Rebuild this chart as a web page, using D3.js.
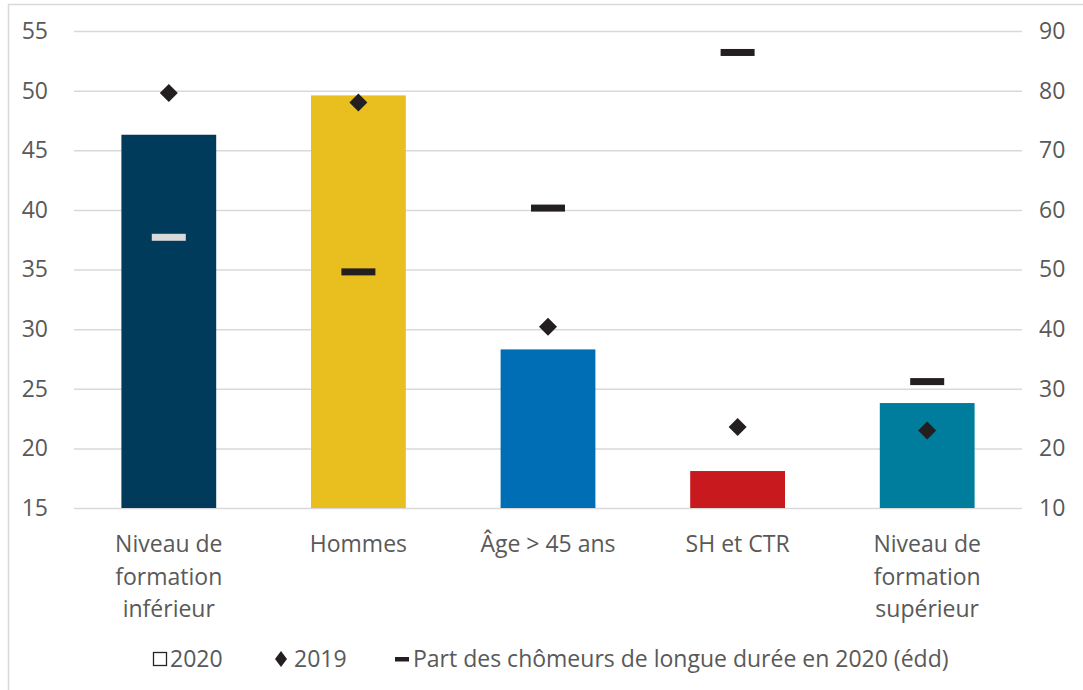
<!DOCTYPE html>
<html>
<head>
<meta charset="utf-8">
<script src="https://cdn.jsdelivr.net/npm/d3@7"></script>
<style>
  html, body { margin: 0; padding: 0; background: #fff; }
  svg { display: block; font-family: "Open Sans", "Noto Sans", sans-serif; }
</style>
</head>
<body>
<svg id="chart" width="1083" height="690"></svg>
<script>
const categories = ["Niveau de formation inférieur", "Hommes", "Âge > 45 ans", "SH et CTR", "Niveau de formation supérieur"]
const categoryLines = [["Niveau de", "formation", "inférieur"], ["Hommes"], ["Âge > 45 ans"], ["SH et CTR"], ["Niveau de", "formation", "supérieur"]]
const values2020 = [46.3, 49.6, 28.3, 18.1, 23.8]
const values2019 = [49.8, 49.0, 30.2, 21.8, 21.5]
const longTermShare = [55.4, 49.6, 60.3, 86.4, 31.2]
const barColors = ["#003B5C", "#E8BF1F", "#006EB5", "#C8191F", "#007C9C"]
const dashColors = ["#D9D9D9", "#231F20", "#231F20", "#231F20", "#231F20"]
const leftTicks = [15, 20, 25, 30, 35, 40, 45, 50, 55]
const rightTicks = [10, 20, 30, 40, 50, 60, 70, 80, 90]
const legendLabels = ["2020", "2019", "Part des chômeurs de longue durée en 2020 (édd)"]

const svg = d3.select("#chart")
const textColor = "#595959"
const fontSize = 23
const plot = { left: 74, right: 1022, top: 31, bottom: 508 }

// chart frame
svg.append("rect")
  .attr("x", 8.5).attr("y", 4.5)
  .attr("width", 1200).attr("height", 800)
  .attr("fill", "none").attr("stroke", "#D9D9D9").attr("stroke-width", 1.5)

const x = d3.scaleBand()
  .domain(categories)
  .range([plot.left, plot.right])
  .paddingInner(0.5)
  .paddingOuter(0.25)
const yLeft = d3.scaleLinear().domain([15, 55]).range([plot.bottom, plot.top])
const yRight = d3.scaleLinear().domain([10, 90]).range([plot.bottom, plot.top])

// gridlines
svg.append("g")
  .attr("transform", `translate(${plot.left},0)`)
  .call(d3.axisLeft(yLeft).tickValues(leftTicks).tickSize(-(plot.right - plot.left)).tickFormat(""))
  .call((g) => g.select(".domain").remove())
  .call((g) => g.selectAll("line").attr("stroke", "#D9D9D9").attr("stroke-width", 1.5))

const styleTicks = (g) => {
  g.attr("font-family", null).attr("font-size", fontSize)
  g.select(".domain").remove()
  g.selectAll("text").attr("fill", textColor)
}

// left axis labels
svg.append("g")
  .attr("transform", "translate(48,0)")
  .call(d3.axisLeft(yLeft).tickValues(leftTicks).tickSize(0).tickPadding(0))
  .call(styleTicks)

// right axis labels
svg.append("g")
  .attr("transform", "translate(1039,0)")
  .call(d3.axisRight(yRight).tickValues(rightTicks).tickSize(0).tickPadding(0))
  .call(styleTicks)

// bars 2020
svg.append("g").selectAll("rect")
  .data(values2020)
  .join("rect")
  .attr("x", (d, i) => x(categories[i]))
  .attr("y", (d) => yLeft(d))
  .attr("width", x.bandwidth())
  .attr("height", (d) => plot.bottom - yLeft(d))
  .attr("fill", (d, i) => barColors[i])

// long-term share dashes (right axis)
svg.append("g").selectAll("rect")
  .data(longTermShare)
  .join("rect")
  .attr("x", (d, i) => x(categories[i]) + x.bandwidth() / 2 - 17)
  .attr("y", (d) => yRight(d) - 3.5)
  .attr("width", 34)
  .attr("height", 7)
  .attr("fill", (d, i) => dashColors[i])

// 2019 diamonds
svg.append("g").selectAll("path")
  .data(values2019)
  .join("path")
  .attr("transform", (d, i) => `translate(${x(categories[i]) + x.bandwidth() / 2},${yLeft(d)})`)
  .attr("d", "M0,-9L9,0L0,9L-9,0Z")
  .attr("fill", "#231F20")

// category labels
const catLabels = svg.append("g").selectAll("text")
  .data(categoryLines)
  .join("text")
  .attr("text-anchor", "middle")
  .attr("fill", textColor)
  .attr("font-size", fontSize)
catLabels.selectAll("tspan")
  .data((lines, i) => lines.map((line) => ({ line, i })))
  .join("tspan")
  .attr("x", (d) => x(categories[d.i]) + x.bandwidth() / 2)
  .attr("y", (d, j) => 552 + j * 32.5)
  .text((d) => d.line)

// legend
const legend = svg.append("g").attr("fill", textColor).attr("font-size", fontSize)
legend.append("rect")
  .attr("x", 153.5).attr("y", 652.5).attr("width", 13).attr("height", 13)
  .attr("fill", "#fff").attr("stroke", "#262626").attr("stroke-width", 1.3)
legend.append("text").attr("x", 170).attr("y", 667).text(legendLabels[0])
legend.append("path")
  .attr("transform", "translate(281,659)")
  .attr("d", "M0,-8L6,0L0,8L-6,0Z")
  .attr("fill", "#231F20")
legend.append("text").attr("x", 294).attr("y", 667).text(legendLabels[1])
legend.append("rect")
  .attr("x", 395).attr("y", 657).attr("width", 14).attr("height", 4.5)
  .attr("fill", "#231F20")
legend.append("text").attr("x", 413).attr("y", 667).text(legendLabels[2])
</script>
</body>
</html>
